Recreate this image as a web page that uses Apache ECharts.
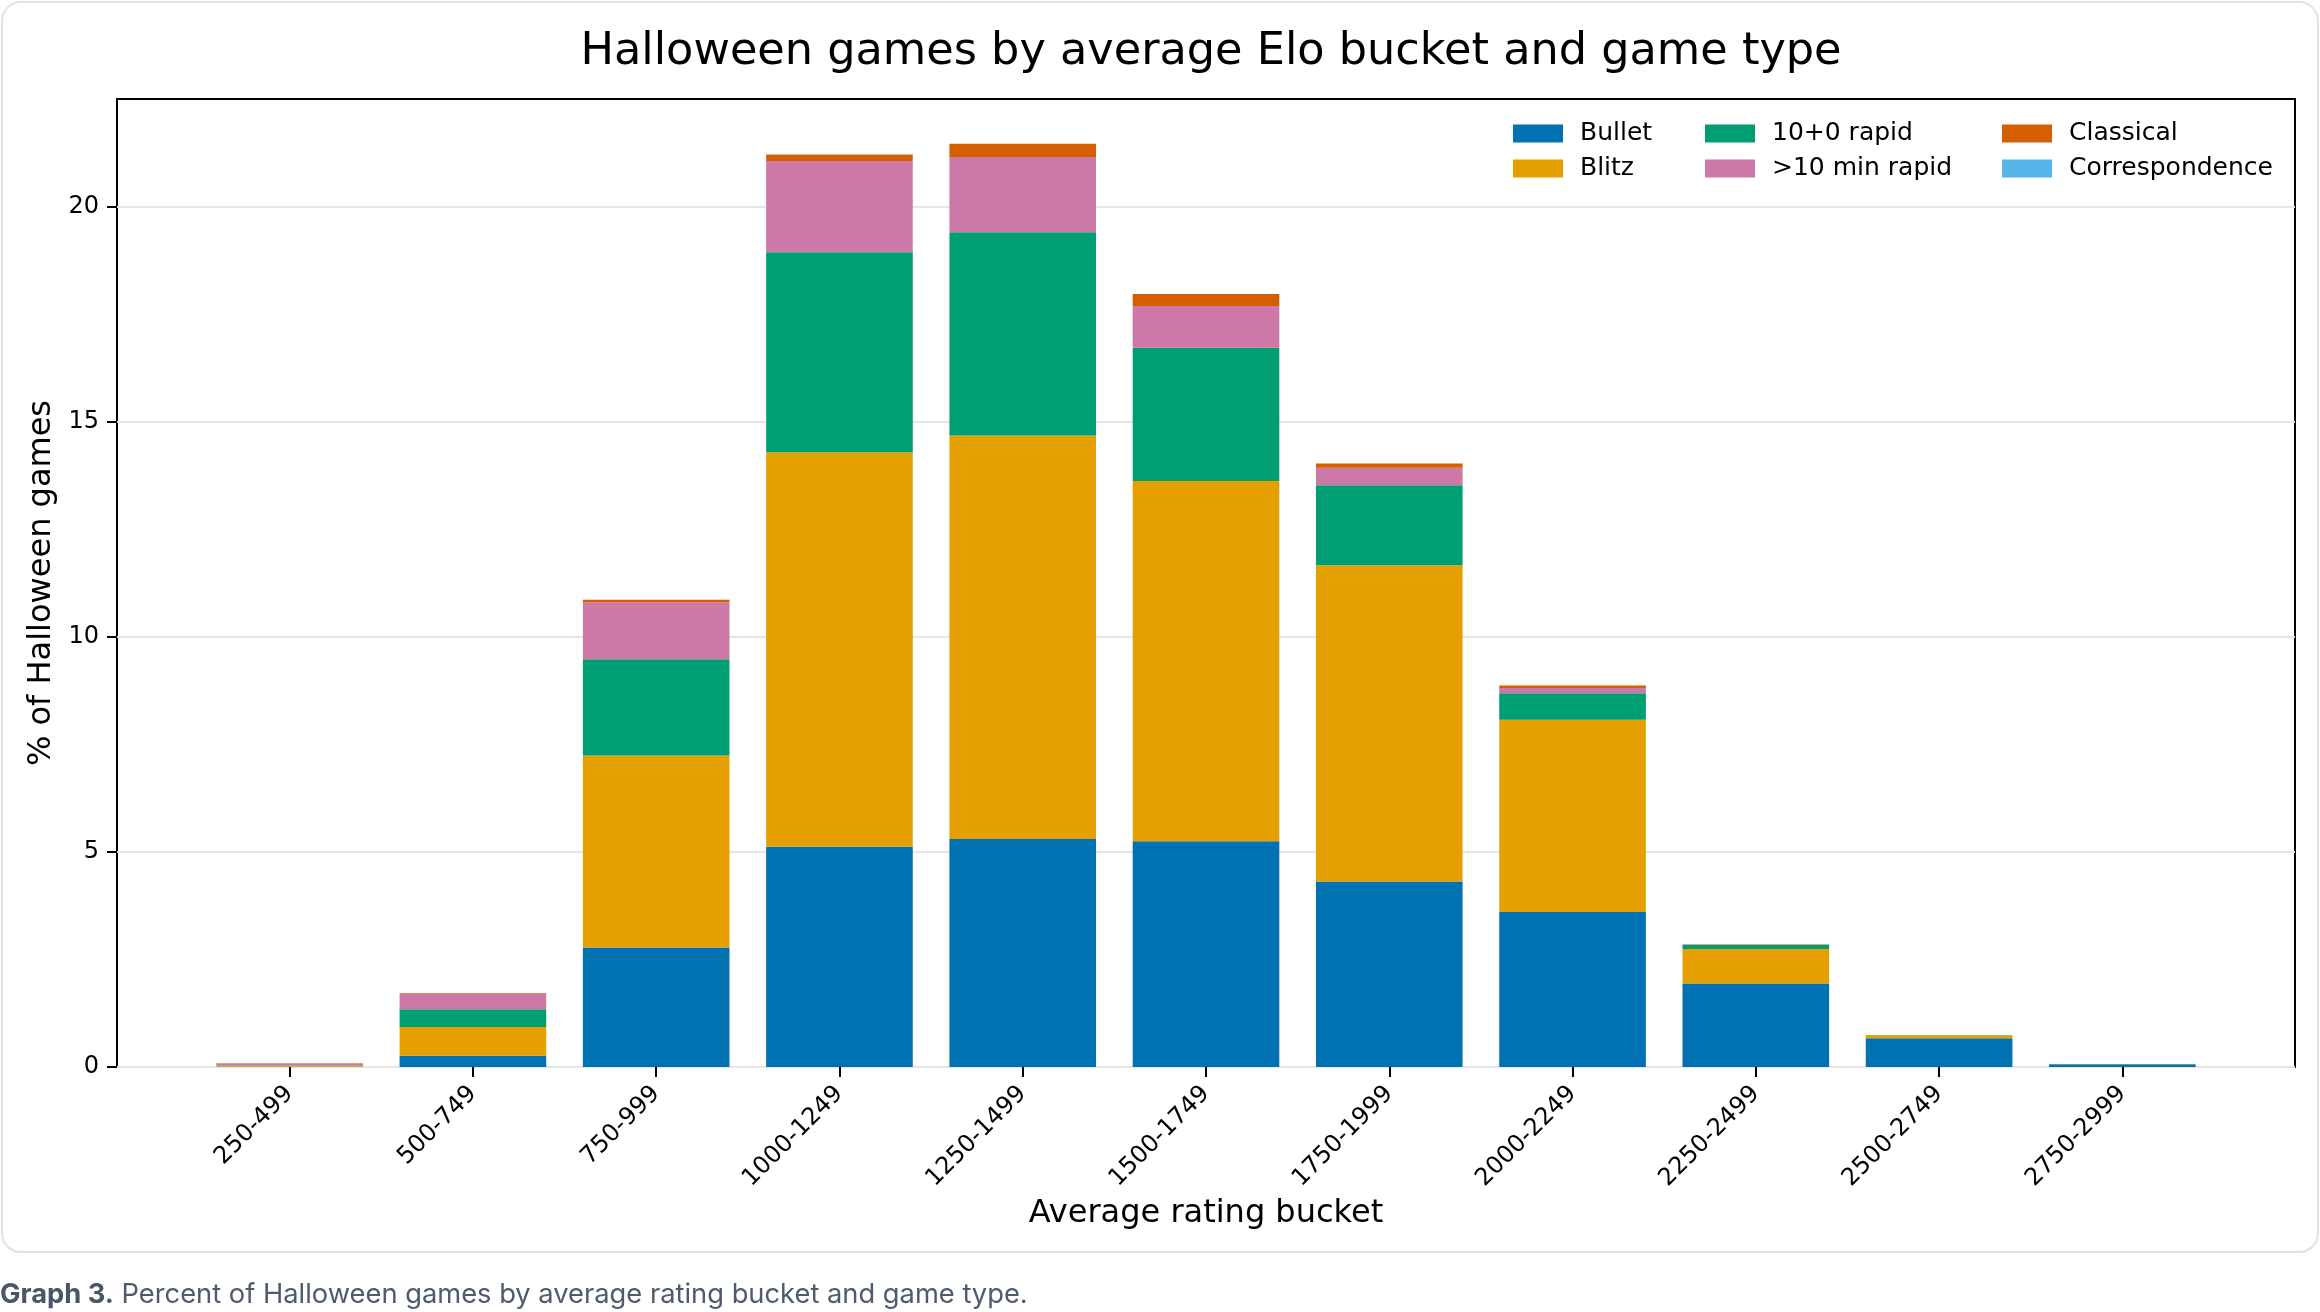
<!DOCTYPE html>
<html>
<head>
<meta charset="utf-8">
<script src="https://cdn.jsdelivr.net/npm/echarts@6/dist/echarts.min.js"></script>
<style>
  html, body { margin: 0; padding: 0; background: #ffffff; }
  #card {
    position: absolute; left: 1px; top: 1px; width: 2314px; height: 1248px;
    border: 2px solid #dde2ec; border-radius: 20px; box-sizing: content-box;
  }
  #chart { position: absolute; left: 0; top: 0; width: 2320px; height: 1312px; }
  #caption {
    position: absolute; left: 0; top: 1277px; margin: 0;
    font-family: Inter, "Noto Sans", sans-serif; font-size: 27.3px; color: #4f5b6c;
  }
  #caption b { color: #4a5566; }
</style>
</head>
<body>
<div id="card"></div>
<div id="chart"></div>
<p id="caption"><b>Graph 3.</b> Percent of Halloween games by average rating bucket and game type.</p>
<script>
const buckets = ["250-499", "500-749", "750-999", "1000-1249", "1250-1499", "1500-1749",
                 "1750-1999", "2000-2249", "2250-2499", "2500-2749", "2750-2999"];
const bullet = [0.005, 0.26, 2.78, 5.12, 5.30, 5.25, 4.31, 3.60, 1.94, 0.67, 0.065];
const blitz = [0.02, 0.67, 4.46, 9.17, 9.38, 8.37, 7.35, 4.47, 0.80, 0.07, 0.005];
const rapid10 = [0.01, 0.41, 2.24, 4.65, 4.72, 3.10, 1.86, 0.62, 0.10, 0.005, 0.0];
const rapidLong = [0.04, 0.37, 1.32, 2.12, 1.75, 0.97, 0.41, 0.12, 0.01, 0.0, 0.0];
const classical = [0.01, 0.01, 0.06, 0.15, 0.31, 0.28, 0.10, 0.06, 0.005, 0.0, 0.0];
const correspondence = [0.0, 0.0, 0.0, 0.0, 0.0, 0.0, 0.0, 0.0, 0.0, 0.0, 0.0];
const yTicks = [0, 5, 10, 15, 20];

const colors = ['#0072B2', '#E69F00', '#009E73', '#CC79A7', '#D55E00', '#56B4E9'];
const names = ['Bullet', 'Blitz', '10+0 rapid', '>10 min rapid', 'Classical', 'Correspondence'];
const values = [bullet, blitz, rapid10, rapidLong, classical, correspondence];

const font = '"DejaVu Sans", sans-serif';
const chart = echarts.init(document.getElementById('chart'));

function legendCol(left, items) {
    return {
        orient: 'vertical', left: left, top: 116,
        itemWidth: 50, itemHeight: 18, itemGap: 10,
        icon: 'rect', data: items,
        textStyle: { fontFamily: font, fontSize: 25, color: '#000', padding: [0, 0, 0, 12], lineHeight: 25 }
    };
}

chart.setOption({
    backgroundColor: 'transparent',
    animation: false,
    color: colors,
    title: {
        text: 'Halloween games by average Elo bucket and game type',
        left: 1206, top: 25, textAlign: 'center',
        textStyle: { fontFamily: font, fontSize: 44.6, fontWeight: 'normal', color: '#000' }
    },
    legend: [
        legendCol(1508, ['Bullet', 'Blitz']),
        legendCol(1700, ['10+0 rapid', '>10 min rapid']),
        legendCol(1997, ['Classical', 'Correspondence'])
    ],
    grid: [
        { left: 117, right: 25, top: 99, bottom: 245, show: true, borderColor: '#000', borderWidth: 2, backgroundColor: 'transparent' },
        { left: 198, right: 106, top: 99, bottom: 245 }
    ],
    xAxis: [
        { gridIndex: 0, type: 'value', show: false },
        {
            gridIndex: 1, type: 'category', data: buckets,
            name: 'Average rating bucket', nameLocation: 'middle', nameGap: 130,
            nameTextStyle: { fontFamily: font, fontSize: 32, color: '#000' },
            axisLine: { show: false },
            axisTick: { show: true, alignWithLabel: true, length: 10, lineStyle: { color: '#000', width: 2 } },
            axisLabel: { rotate: 45, margin: 23, fontFamily: font, fontSize: 24, color: '#000', interval: 0 }
        }
    ],
    yAxis: [
        {
            gridIndex: 0, type: 'value', min: 0, max: 22.5,
            name: '% of Halloween games', nameLocation: 'middle', nameGap: 55,
            nameTextStyle: { fontFamily: font, fontSize: 32, color: '#000' },
            axisLine: { show: false },
            axisTick: { show: true, length: 10, customValues: yTicks, lineStyle: { color: '#000', width: 2 } },
            axisLabel: { margin: 18, fontFamily: font, fontSize: 24, color: '#000', customValues: yTicks },
            splitLine: { show: true, lineStyle: { color: '#e6e6e6', width: 2 } }
        },
        { gridIndex: 1, type: 'value', min: 0, max: 22.5, show: false, splitLine: { show: false } }
    ],
    series: names.map((n, i) => ({
        name: n, type: 'bar', stack: 'total', xAxisIndex: 1, yAxisIndex: 1,
        barWidth: '80%', data: values[i],
        itemStyle: { color: colors[i] }
    }))
});
</script>
</body>
</html>
